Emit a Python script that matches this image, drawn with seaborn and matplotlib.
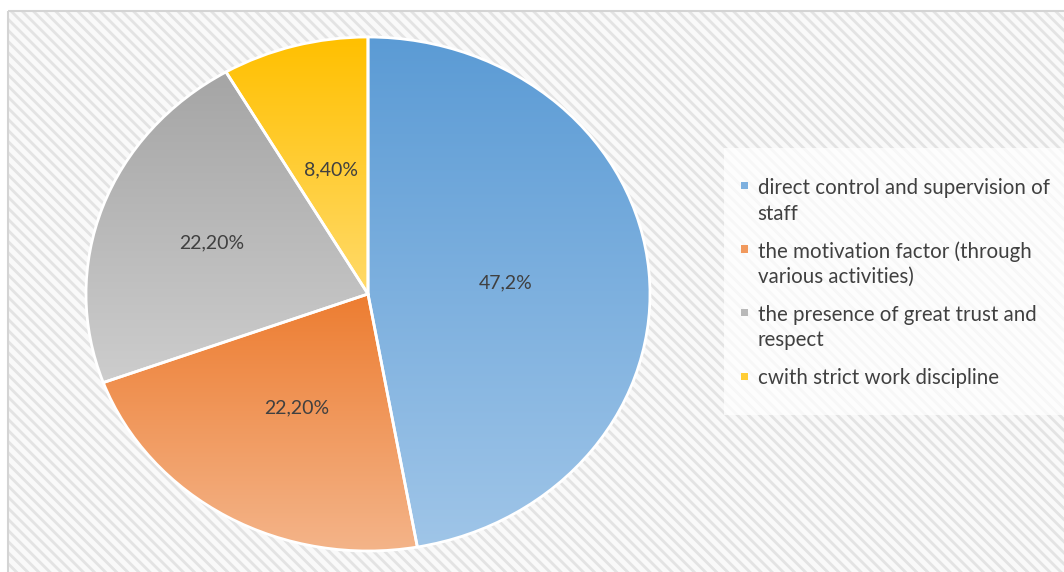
import numpy as np
import matplotlib
matplotlib.use("Agg")
import matplotlib.pyplot as plt
from matplotlib.patches import Rectangle, Patch
from matplotlib.legend_handler import HandlerPatch
from matplotlib.colors import to_rgb
import seaborn as sns

# ---- data ----
categories = [
    "direct control and supervision of\nstaff",
    "the motivation factor (through\nvarious activities)",
    "the presence of great trust and\nrespect",
    "cwith strict work discipline",
]
shares = [47.2, 22.2, 22.2, 8.4]
value_labels = ["47,2%", "22,20%", "22,20%", "8,40%"]

# gradient colours per slice (top -> bottom)
top_colors = ["#5B9BD5", "#ED7D31", "#A5A5A5", "#FFC000"]
bottom_colors = ["#9FC5E8", "#F4B489", "#CDCDCD", "#FFDA6A"]

sns.set_theme(style="white")
plt.rcParams["font.family"] = ["Lato", "DejaVu Sans"]
plt.rcParams["hatch.linewidth"] = 2.0

W, H = 1064, 572
fig = plt.figure(figsize=(W / 100, H / 100), dpi=100)
fig.patch.set_facecolor("white")

# textured chart area with thin border
bg = fig.add_axes([0, 0, 1, 1], zorder=0)
bg.set_xlim(0, W)
bg.set_ylim(H, 0)
bg.axis("off")
bg.add_patch(Rectangle((7.5, 10.5), W, H, facecolor="#f9f9f9",
                       edgecolor="#e3e3e3", linewidth=0, hatch="\\\\\\"))
bg.add_patch(Rectangle((7.5, 10.5), W, H, facecolor="none",
                       edgecolor="#d4d4d4", linewidth=1.5))
# soft panel behind the legend
bg.add_patch(Rectangle((724, 148), W - 724, 267, facecolor="white",
                       edgecolor="none", alpha=0.72))

# ---- pie ----
cx, cy, rx, ry = 368, 294, 282, 257
ax = fig.add_axes([(cx - rx) / W, (H - cy - ry) / H, 2 * rx / W, 2 * ry / H], zorder=1)
wedges, _ = ax.pie(shares, startangle=90, counterclock=False,
                   wedgeprops=dict(edgecolor="white", linewidth=2))

t = np.linspace(0, 1, 256)[:, None, None]
for w, c0, c1 in zip(wedges, top_colors, bottom_colors):
    ext = w.get_path().get_extents()
    img = (1 - t) * np.array(to_rgb(c0)) + t * np.array(to_rgb(c1))
    im = ax.imshow(img, extent=(ext.x0, ext.x1, ext.y0, ext.y1), origin="upper",
                   aspect="auto", interpolation="bilinear", zorder=1)
    im.set_clip_path(w)
    w.set_facecolor("none")
    w.set_zorder(2)

ax.set_aspect("auto")
ax.set_xlim(-1, 1)
ax.set_ylim(-1, 1)
ax.axis("off")

# value labels inside slices (best-fit radius for each slice)
label_radius = [0.49, 0.51, 0.59, 0.50]
cum = np.cumsum([0] + shares[:-1])
for start, s, lab, r in zip(cum, shares, value_labels, label_radius):
    ang = np.deg2rad(90 - 360 * (start + s / 2) / sum(shares))
    ax.text(r * np.cos(ang), r * np.sin(ang), lab, ha="center", va="center",
            fontsize=14, color="#404040", zorder=3)


# ---- legend ----
class FirstLineSquare(HandlerPatch):
    def __init__(self, lift=0.0, **kw):
        super().__init__(**kw)
        self.lift = lift

    def create_artists(self, legend, orig_handle, xdescent, ydescent,
                       width, height, fontsize, trans):
        s = 5.2
        x = -xdescent + (width - s) / 2
        y = -ydescent + (height - s) / 2 + self.lift
        p = Rectangle((x, y), s, s, facecolor=orig_handle.get_facecolor(),
                      edgecolor="none", transform=trans)
        return [p]


mid_colors = [tuple((np.array(to_rgb(a)) + np.array(to_rgb(b))) / 2)
              for a, b in zip(top_colors, bottom_colors)]
handles = [Patch(facecolor=c) for c in mid_colors]
hmap = {h: FirstLineSquare(lift=(11.5 if "\n" in lab else 0.0))
        for h, lab in zip(handles, categories)}
leg = fig.legend(handles, categories, handler_map=hmap, loc="upper left",
                 bbox_to_anchor=(739 / W, 1 - 178 / H), frameon=False,
                 fontsize=14.8, handlelength=0.55, handletextpad=0.35,
                 labelspacing=0.85, borderpad=0, borderaxespad=0)
for txt in leg.get_texts():
    txt.set_color("#404040")
    txt.set_linespacing(1.35)

fig.savefig("out.png", dpi=100, facecolor=fig.get_facecolor())
